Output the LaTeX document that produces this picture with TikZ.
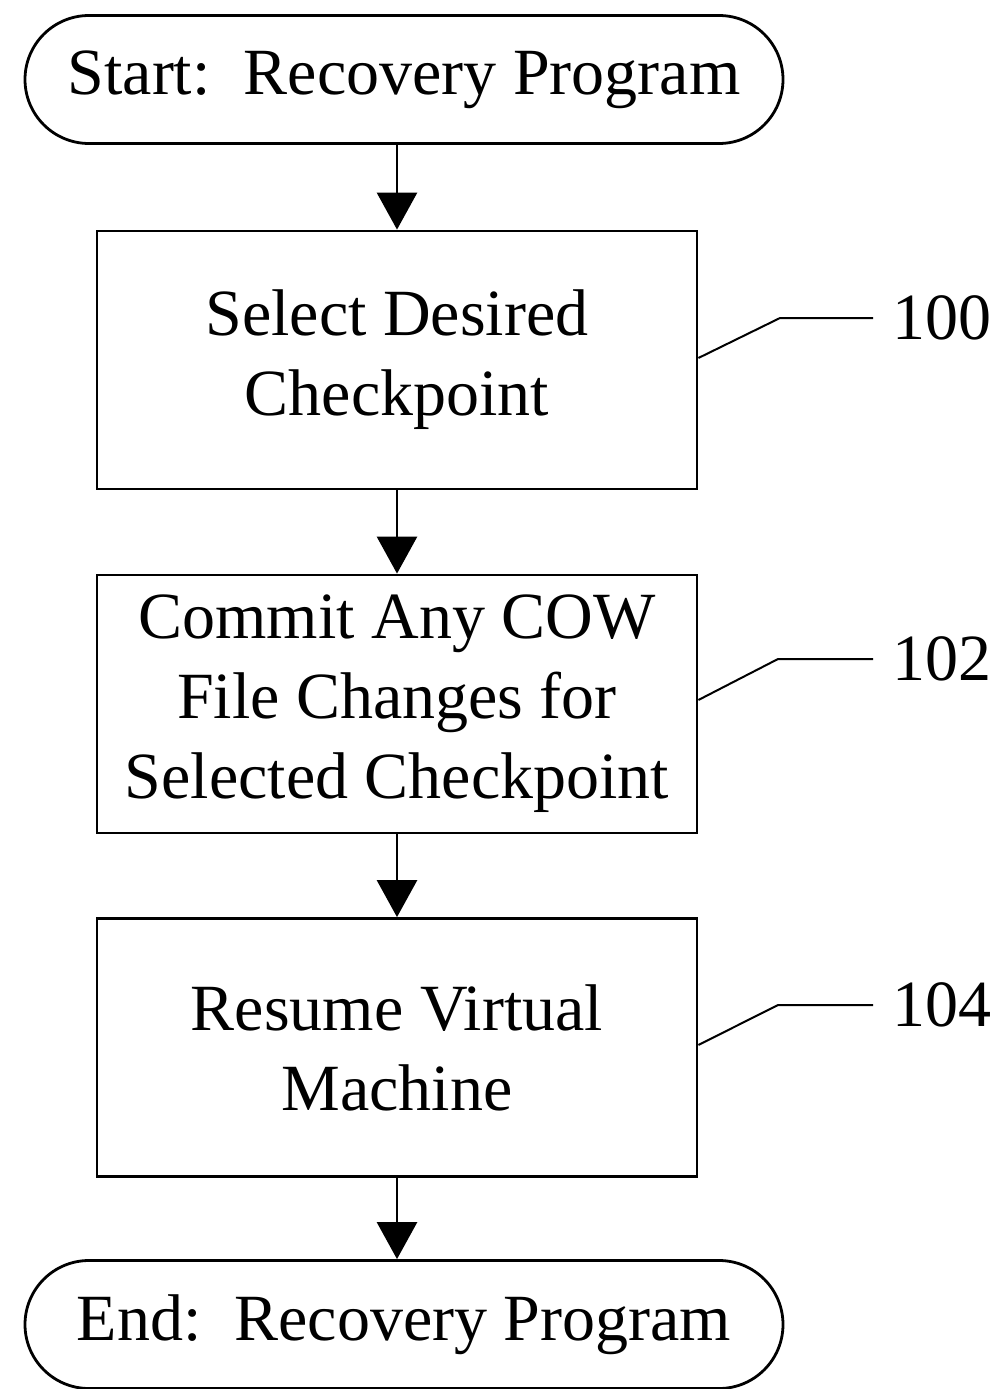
\documentclass[tikz,border=0pt]{standalone}
\usepackage{fontspec}
\setmainfont{Liberation Serif}
\usetikzlibrary{arrows.meta}
\begin{document}
\begin{tikzpicture}[x=1pt,y=-1pt,
  term/.style={draw,line width=2.8pt,rounded corners=64pt,minimum width=758pt,minimum height=128pt,inner sep=0pt,font=\fontsize{66}{80}\selectfont},
  stepbox/.style={draw,line width=2.8pt,minimum width=600pt,minimum height=258pt,inner sep=0pt,align=center,font=\fontsize{66}{80}\selectfont},
  flow/.style={line width=2.8pt,-{Triangle[width=40pt,length=37pt]}},
  lead/.style={line width=2pt},
  lab/.style={font=\fontsize{66}{80}\selectfont,anchor=west,inner sep=0pt}]
\useasboundingbox (0,0) rectangle (995,1389);
\node[term] (start) at (404,79.5) {Start:\ \ Recovery Program};
\node[stepbox] (s1) at (397,360) {Select Desired\\Checkpoint};
\node[stepbox] (s2) at (397,704) {Commit Any COW\\File Changes for\\Selected Checkpoint};
\node[stepbox] (s3) at (397,1047.5) {Resume Virtual\\Machine};
\node[term] (end) at (404,1324.5) {End:\ \ Recovery Program};
\draw[flow] (start.south -| s1.north) -- (s1.north);
\draw[flow] (s1) -- (s2);
\draw[flow] (s2) -- (s3);
\draw[flow] (s3.south) -- (s3.south |- end.north);
\node[lab] (l100) at (892,318) {100};
\node[lab] (l102) at (892,659) {102};
\node[lab] (l104) at (892,1005) {104};
\coordinate (k100) at (780,318);
\coordinate (k102) at (778,659);
\coordinate (k104) at (778,1005);
\draw[lead] (s1.east |- 0,358) -- (k100) -- (873,318);
\draw[lead] (s2.east |- 0,700) -- (k102) -- (873,659);
\draw[lead] (s3.east |- 0,1045) -- (k104) -- (873,1005);
\end{tikzpicture}
\end{document}
